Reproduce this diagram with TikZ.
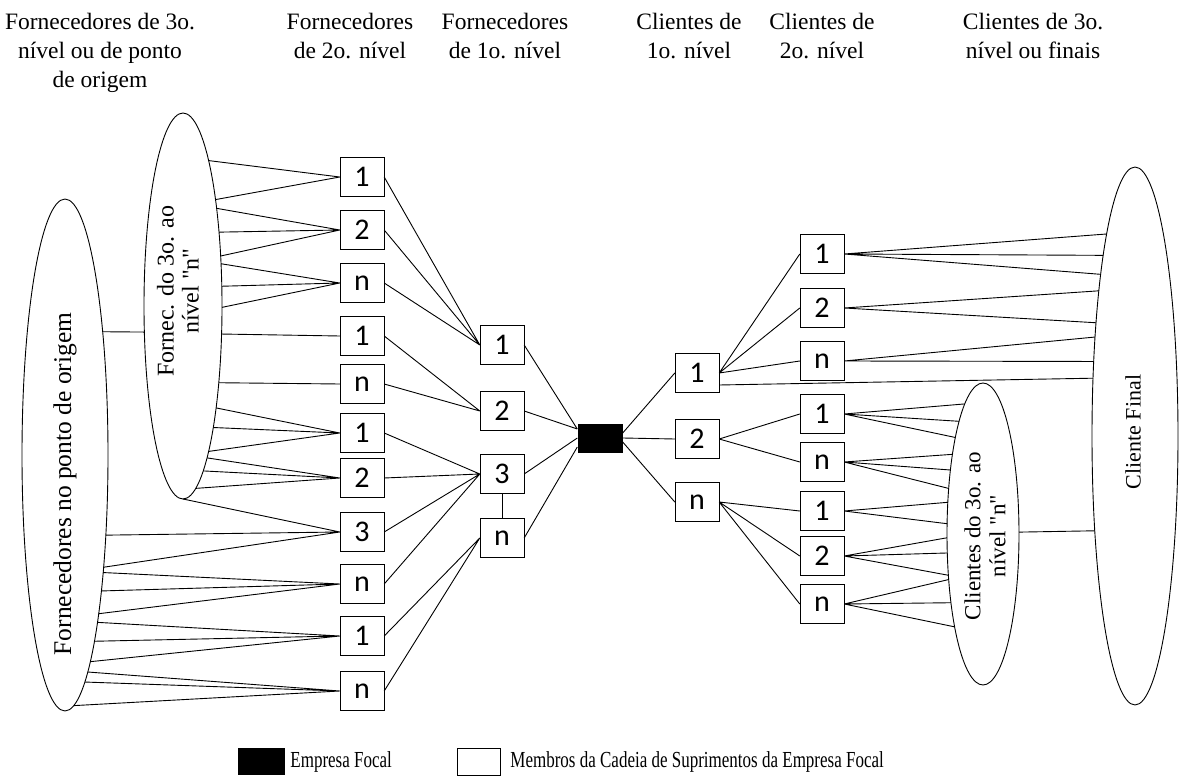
\documentclass[tikz,border=0pt]{standalone}
\usepackage{fontspec}
\setmainfont{Liberation Serif}[Ligatures=TeXOff]
\newfontfamily\boxfont{Carlito}
\usepackage{graphicx}
\usetikzlibrary{shapes.geometric,positioning}

\begin{document}
\begin{tikzpicture}[
    x=1pt, y=-1pt,
    member/.style={draw, rectangle, minimum width=44pt, minimum height=39pt, inner sep=0pt, fill=white, font=\boxfont\fontsize{30}{30}\selectfont},
    focalbox/.style={fill=black, minimum width=45pt, minimum height=29pt, inner sep=0pt},
    group/.style={draw, ellipse, inner sep=0pt, outer sep=0pt, line width=0.9pt},
    wire/.style={draw, line width=0.9pt},
    hdr/.style={anchor=north, align=center, inner sep=0pt, font=\fontsize{23.5}{29}\selectfont},
    vlbl/.style={rotate=90, align=center, inner sep=0pt},
    keytxt/.style={anchor=west, inner sep=0pt, font=\fontsize{17}{20}\selectfont},
  ]
  \useasboundingbox (0,0) rectangle (1179,778);

  % ---- column headings
  \node[hdr] (h1) at (100,13) {Fornecedores de 3o.\\nível ou de ponto\\de origem};
  \node[hdr] (h2) at (350,13) {Fornecedores\\de 2o. nível};
  \node[hdr] (h3) at (505,13) {Fornecedores\\de 1o. nível};
  \node[hdr] (h4) at (689,13) {Clientes de\\1o. nível};
  \node[hdr] (h5) at (822,13) {Clientes de\\2o. nível};
  \node[hdr] (h6) at (1033,13) {Clientes de 3o.\\nível ou finais};

  % ---- supplier side: groups
  \node[group, minimum width=86pt, minimum height=512pt] (origem) at (65,455) {};
  \node[vlbl, font=\fontsize{25.5}{27}\selectfont] (origemtxt) at (65,484) {Fornecedores no ponto de origem};
  \node[group, minimum width=78pt, minimum height=386pt] (forn3) at (183,306) {};
  \node[vlbl, font=\fontsize{24}{25}\selectfont] (forn3txt) at (178,291) {Fornec. do 3o. ao\\nível "n"};

  % ---- 2nd tier suppliers
  \node[member] (fb1) at (362,177) {1};
  \node[member] (fb2) at (362,230) {2};
  \node[member] (fb3) at (362,283) {n};
  \node[member] (fb4) at (362,336) {1};
  \node[member] (fb5) at (362,384) {n};
  \node[member] (fb6) at (362,433) {1};
  \node[member] (fb7) at (362,478) {2};
  \node[member] (fb8) at (362,532) {3};
  \node[member] (fb9) at (362,584) {n};
  \node[member] (fb10) at (362,636) {1};
  \node[member] (fb11) at (362,691) {n};

  % ---- 1st tier suppliers, focal firm, customers
  \node[member] (fa1) at (502,345) {1};
  \node[member] (fa2) at (502,411) {2};
  \node[member] (fa3) at (502,474) {3};
  \node[member] (fa4) at (502,538) {n};
  \node[focalbox] (focal) at (600,438) {};
  \node[member] (ca1) at (697,373) {1};
  \node[member] (ca2) at (697,439) {2};
  \node[member] (ca3) at (697,502) {n};

  % ---- 2nd tier customers
  \node[member] (cb1) at (822,254) {1};
  \node[member] (cb2) at (822,308) {2};
  \node[member] (cb3) at (822,361) {n};
  \node[member] (cb4) at (822,414) {1};
  \node[member] (cb5) at (822,462) {n};
  \node[member] (cb6) at (822,511) {1};
  \node[member] (cb7) at (822,556) {2};
  \node[member] (cb8) at (822,604) {n};

  % ---- customer side: groups
  \node[group, minimum width=72pt, minimum height=302pt] (cli3) at (983,534) {};
  \node[vlbl, font=\fontsize{23}{25}\selectfont] (cli3txt) at (985,536) {Clientes do 3o. ao\\nível "n"};
  \node[group, minimum width=86pt, minimum height=538pt] (final) at (1135,436) {};
  \node[vlbl, font=\fontsize{22}{24}\selectfont] (finaltxt) at (1133,432) {Cliente Final};

  % ---- links, supplier side
  \draw[wire] (origem.73) -- (forn3.214);
  \draw[wire] (fb1.west) -- (forn3.80)  (fb1.west) -- (forn3.73);
  \draw[wire] (fb2.west) -- (forn3.71)  (fb2.west) -- (forn3.64)  (fb2.west) -- (forn3.53);
  \draw[wire] (fb3.west) -- (forn3.48)  (fb3.west) -- (forn3.27)  (fb3.west) -- (forn3.358);
  \draw[wire] (fb4.west) -- (forn3.324);
  \draw[wire] (fb5.west) -- (forn3.295);
  \draw[wire] (fb6.west) -- (forn3.288) (fb6.west) -- (forn3.284) (fb6.west) -- (forn3.280);
  \draw[wire] (fb7.west) -- (forn3.279) (fb7.west) -- (forn3.277) (fb7.west) -- (forn3.274);
  \draw[wire] (fb8.west) -- (forn3.south) (fb8.west) -- (origem.297) (fb8.west) -- (origem.289);
  \draw[wire] (fb9.west) -- (origem.288) (fb9.west) -- (origem.285) (fb9.west) -- (origem.282);
  \draw[wire] (fb10.west) -- (origem.281) (fb10.west) -- (origem.279) (fb10.west) -- (origem.277);
  \draw[wire] (fb11.west) -- (origem.276) (fb11.west) -- (origem.275) (fb11.west) -- (origem.272);

  \draw[wire] (fb1.east) -- (fa1.west) (fb2.east) -- (fa1.west) (fb3.east) -- (fa1.west);
  \draw[wire] (fb4.east) -- (fa2.west) (fb5.east) -- (fa2.west);
  \draw[wire] (fb6.east) -- (fa3.west) (fb7.east) -- (fa3.west)
              (fb8.east) -- (fa3.west) (fb9.east) -- (fa3.west);
  \draw[wire] (fb10.east) -- (fa4.west) (fb11.east) -- (fa4.west);
  \draw[wire] (fa3) -- (fa4);

  \draw[wire] (fa1.east) -- ([yshift=9pt]focal.west) (fa2.east) -- ([yshift=9pt]focal.west);
  \draw[wire] (fa3.east) -- (focal.west) (fa4.east) -- ([yshift=-9pt]focal.west);

  % ---- links, customer side
  \draw[wire] ([yshift=5pt]focal.east) -- (ca1.west) (focal.east) -- (ca2.west)
              ([yshift=-4pt]focal.east) -- (ca3.west);
  \draw[wire] (ca1.east) -- (cb1.west) (ca1.east) -- (cb2.west) (ca1.east) -- (cb3.west);
  \draw[wire] ([yshift=-12pt]ca1.east) -- (final.126);
  \draw[wire] (ca2.east) -- (cb4.west) (ca2.east) -- (cb5.west);
  \draw[wire] (ca3.east) -- (cb6.west) (ca3.east) -- (cb7.west) (ca3.east) -- (cb8.west);

  \draw[wire] (cb1.east) -- (final.98)  (cb1.east) -- (final.100) (cb1.east) -- (final.102);
  \draw[wire] (cb2.east) -- (final.104) (cb2.east) -- (final.109);
  \draw[wire] (cb3.east) -- (final.112) (cb3.east) -- (final.119);
  \draw[wire] (cb4.east) -- (cli3.98)  (cb4.east) -- (cli3.102) (cb4.east) -- (cli3.106);
  \draw[wire] (cb5.east) -- (cli3.111) (cb5.east) -- (cli3.117) (cb5.east) -- (cli3.127);
  \draw[wire] (cb6.east) -- (cli3.138) (cb6.east) -- (cli3.164);
  \draw[wire] (cb7.east) -- (cli3.186) (cb7.east) -- (cli3.208) (cb7.east) -- (cli3.230);
  \draw[wire] (cb8.east) -- (cli3.233) (cb8.east) -- (cli3.245) (cb8.east) -- (cli3.253);
  \draw[wire] (cli3.3) -- (final.247);

  % ---- key
  \node[focalbox, minimum width=47pt, minimum height=27pt] (keyfocal) at (261.5,761.5) {};
  \node[keytxt, right=5pt of keyfocal] (keyfocaltxt) {\scalebox{1}[1.35]{Empresa Focal}};
  \node[member, minimum width=43pt, minimum height=27pt] (keymember) at (478.5,761.5) {};
  \node[keytxt, right=10pt of keymember] (keymembertxt) {\scalebox{1}[1.35]{Membros da Cadeia de Suprimentos da Empresa Focal}};
\end{tikzpicture}
\end{document}
